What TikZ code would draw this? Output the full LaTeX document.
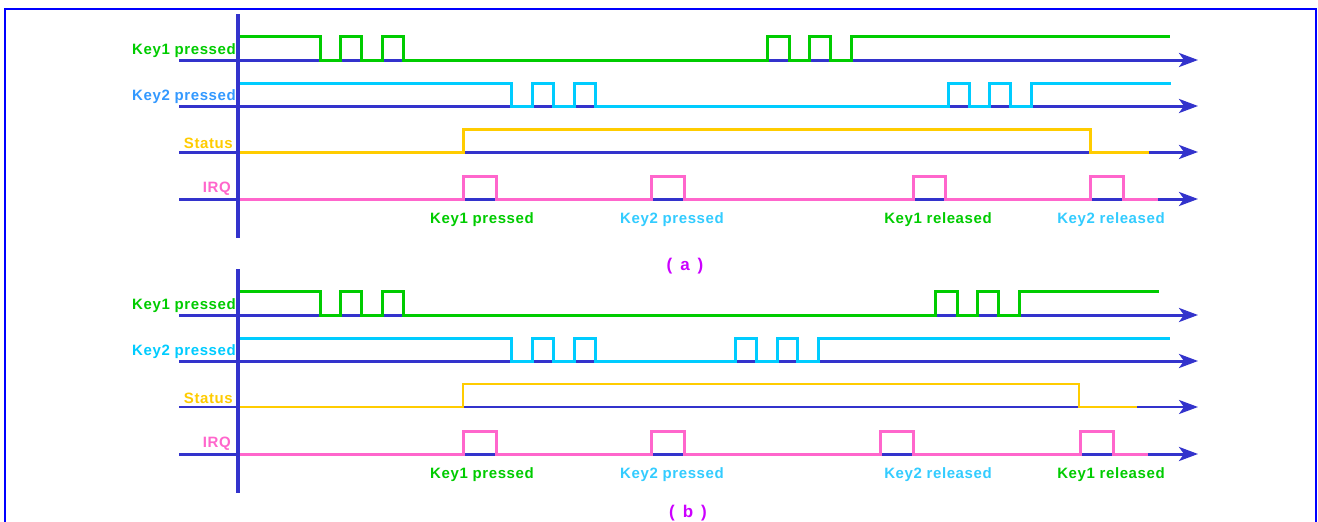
\documentclass[tikz,border=0pt]{standalone}
\usepackage{fontspec}
\setmainfont{Liberation Sans}
\newfontfamily\lblfont{Liberation Sans}[LetterSpace=4]
\usetikzlibrary{arrows.meta}
\definecolor{axisblue}{HTML}{3333CC}
\definecolor{frameblue}{HTML}{0000FF}
\definecolor{kgreen}{HTML}{00CC00}
\definecolor{kcyan}{HTML}{00CCFF}
\definecolor{lcyan}{HTML}{33CCFF}
\definecolor{lblue}{HTML}{3399FF}
\definecolor{kyellow}{HTML}{FFCC00}
\definecolor{kpink}{HTML}{FF66CC}
\definecolor{kmag}{HTML}{CC00FF}
\tikzset{
  axisline/.style={draw=axisblue, line width=3pt, -{Stealth[length=19pt,width=14pt,inset=5pt]}},
  vaxis/.style={draw=axisblue, line width=3.5pt},
  sig/.style={line width=3pt, line join=miter},
  lbl/.style={font=\lblfont\bfseries\fontsize{15}{17}\selectfont, inner sep=0pt},
  leftlbl/.style={lbl, anchor=base east},
  evlbl/.style={lbl, anchor=base},
  caplbl/.style={font=\lblfont\bfseries\fontsize{17}{19}\selectfont, inner sep=0pt, anchor=base, kmag},
}
\begin{document}
\begin{tikzpicture}[x=1pt,y=-1pt]
\useasboundingbox (0,0) rectangle (1318,522);
\fill[white] (0,0) rectangle (1318,522);
% frame
\draw[frameblue, line width=2pt] (5,530) -- (5,9) -- (1316,9) -- (1316,530);

% ================= panel (a) =================
\begin{scope}
\draw[axisline] (179,60) -- (1198,60);
\draw[axisline] (179,106) -- (1198,106);
\draw[axisline] (179,152) -- (1198,152);
\draw[axisline] (179,199) -- (1198,199);
\draw[vaxis] (238,14) -- (238,238);
\draw[sig, kgreen] (240,36) -| (320,60) -| (340,36) -| (361,60) -| (382,36) -| (403,60) -| (767,36) -| (789,60) -| (809,36) -| (830,60) -| (851,36) -- (1170,36);
\draw[sig, kcyan] (240,83) -| (511,106) -| (532,83) -| (553,106) -| (574,83) -| (595,106) -| (948,83) -| (969,106) -| (989,83) -| (1010,106) -| (1031,83) -- (1171,83);
\draw[sig, kyellow] (240,152) -| (463,129) -| (1090,152) -- (1149,152);
\draw[sig, kpink] (240,199) -| (463,176) -| (496,199) -| (651,176) -| (684,199) -| (913,176) -| (945,199) -| (1090,176) -| (1123,199) -- (1158,199);
\node[leftlbl, kgreen] (a1) at (236,54) {Key1 pressed};
\node[leftlbl, lblue] (a2) at (236,100) {Key2 pressed};
\node[leftlbl, kyellow] (a3) at (233,148) {Status};
\node[leftlbl, kpink] (a4) at (231,192) {IRQ};
\node[evlbl, kgreen] (ae1) at (482,223) {Key1 pressed};
\node[evlbl, lcyan] (ae2) at (672,223) {Key2 pressed};
\node[evlbl, kgreen] (ae3) at (938,223) {Key1 released};
\node[evlbl, lcyan] (ae4) at (1111,223) {Key2 released};
\node[caplbl] (acap) at (685,270) {(\hspace{8pt}a\hspace{8pt})};
\end{scope}

% ================= panel (b) =================
\begin{scope}[yshift=-255pt]
\draw[axisline] (179,60) -- (1198,60);
\draw[axisline] (179,106) -- (1198,106);
\draw[axisline, line width=2.2pt] (179,152) -- (1198,152);
\draw[axisline] (179,199) -- (1198,199);
\draw[vaxis] (238,14) -- (238,238);
\draw[sig, kgreen] (240,36) -| (320,60) -| (340,36) -| (361,60) -| (382,36) -| (403,60) -| (935,36) -| (957,60) -| (977,36) -| (998,60) -| (1019,36) -- (1159,36);
\draw[sig, kcyan] (240,83) -| (511,106) -| (532,83) -| (553,106) -| (574,83) -| (595,106) -| (735,83) -| (756,106) -| (777,83) -| (797,106) -| (818,83) -- (1170,83);
\draw[sig, kyellow, line width=2.2pt] (240,152) -| (463,129) -| (1079,152) -- (1137,152);
\draw[sig, kpink] (240,199) -| (463,176) -| (496,199) -| (651,176) -| (684,199) -| (880,176) -| (913,199) -| (1080,176) -| (1113,199) -- (1148,199);
\node[leftlbl, kgreen] (b1) at (236,54) {Key1 pressed};
\node[leftlbl, kcyan] (b2) at (236,100) {Key2 pressed};
\node[leftlbl, kyellow] (b3) at (233,148) {Status};
\node[leftlbl, kpink] (b4) at (231,192) {IRQ};
\node[evlbl, kgreen] (be1) at (482,223) {Key1 pressed};
\node[evlbl, lcyan] (be2) at (672,223) {Key2 pressed};
\node[evlbl, lcyan] (be3) at (938,223) {Key2 released};
\node[evlbl, kgreen] (be4) at (1111,223) {Key1 released};
\node[caplbl] (bcap) at (688,262) {(\hspace{8pt}b\hspace{8pt})};
\end{scope}
\end{tikzpicture}
\end{document}
